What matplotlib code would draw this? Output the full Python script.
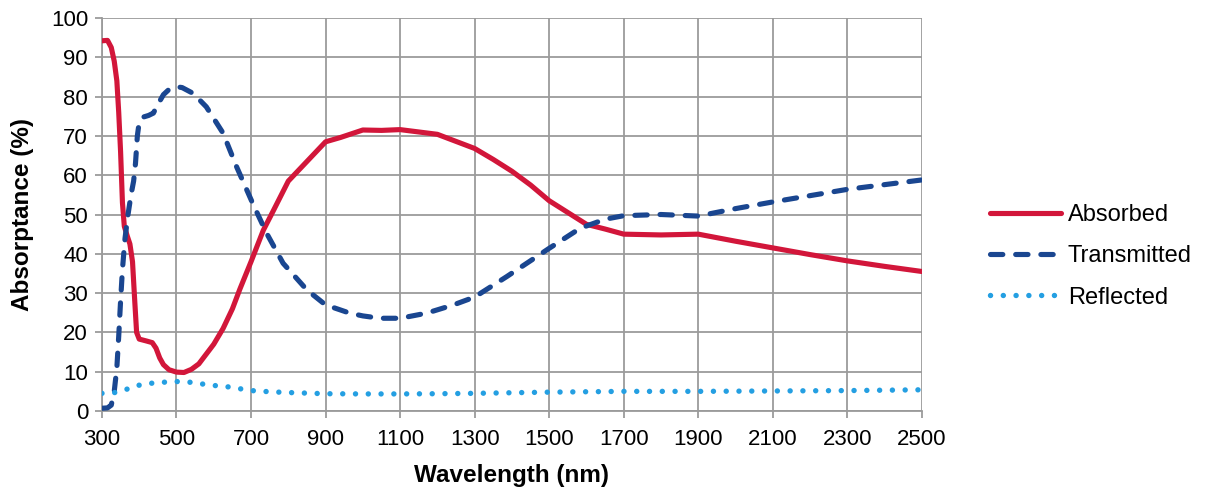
import numpy as np
import matplotlib
matplotlib.use('Agg')
import matplotlib.pyplot as plt

plt.rcParams['font.family'] = ['Liberation Sans', 'DejaVu Sans']

# Data
# -----------------------------
wl_abs = [300, 315, 325, 333, 340, 345, 350, 355, 360, 368, 375, 382, 388, 393,
          400, 420, 435, 445, 455, 465, 480, 500, 520, 540, 560, 580, 600, 625,
          650, 670, 700, 733, 760, 800, 850, 900, 940, 1000, 1050, 1100, 1150,
          1200, 1250, 1300, 1350, 1400, 1450, 1500, 1550, 1600, 1650, 1700,
          1800, 1900, 2000, 2100, 2200, 2300, 2400, 2500]
absorbed = [94.2, 94.3, 92.5, 89, 84, 76, 66, 53, 47, 44.5, 42.5, 38, 28, 20,
            18.3, 17.8, 17.4, 16, 13.5, 11.8, 10.5, 9.9, 9.8, 10.6, 12, 14.5, 17, 21,
            26, 31, 38, 46, 51, 58.5, 63.5, 68.5, 69.6, 71.5, 71.4, 71.6, 71,
            70.4, 68.6, 66.8, 64, 61, 57.5, 53.5, 50.5, 47.5, 46.3, 45,
            44.8, 45, 43.2, 41.5, 39.8, 38.2, 36.8, 35.5]

wl_tra = [300, 315, 325, 333, 340, 345, 350, 355, 362, 370, 378, 385, 390, 395,
          400, 411, 425, 438, 450, 465, 482, 500, 515, 545, 580, 625, 661, 706,
          742, 786, 850, 900, 965, 1000, 1046, 1100, 1171, 1243, 1300, 1386,
          1500, 1583, 1650, 1700, 1800, 1900, 2000, 2100, 2200, 2300, 2400, 2500]
transmitted = [0.7, 0.8, 1.5, 5, 11, 19, 28, 36, 44, 50, 55, 58.5, 63, 70,
               73.5, 74.8, 75.2, 75.8, 78, 80.5, 82, 82.5, 82.3, 80.8, 77.4, 70.7, 62.2, 52.5,
               45.2, 37.6, 30.8, 27, 24.9, 24.2, 23.6, 23.6, 24.9, 27, 29, 34.2,
               41.4, 46.5, 48.8, 49.7, 50, 49.6, 51.5, 53.2, 54.8, 56.4, 57.6, 58.8]

wl_ref = [300, 330, 360, 390, 425, 460, 500, 530, 560, 590, 643, 700, 750, 800,
          900, 1000, 1100, 1200, 1300, 1400, 1500, 1600, 1700, 1900, 2100, 2300, 2500]
reflected = [4.5, 4.6, 5.3, 6.4, 7.0, 7.3, 7.5, 7.4, 7.0, 6.6, 6.1, 5.2, 4.9, 4.7,
             4.4, 4.35, 4.35, 4.4, 4.5, 4.65, 4.8, 4.9, 5.0, 5.0, 5.1, 5.2, 5.4]

xticks = np.arange(300, 2501, 200)
yticks = np.arange(0, 101, 10)

# Figure
# ------
fig = plt.figure(figsize=(12.05, 4.93), dpi=100)
ax = fig.add_axes([0.0846, 0.1663, 0.6805, 0.7972])

gcol = '#9b9b9b'
ax.plot(wl_abs, absorbed, color='#d2163a', lw=3.7, solid_capstyle='round',
        solid_joinstyle='round', label='Absorbed', zorder=3)
ax.plot(wl_tra, transmitted, color='#1a4690', lw=3.7, dashes=(2.4, 2.5),
        dash_capstyle='round', label='Transmitted', zorder=3)
ax.plot(wl_ref, reflected, color='#249fe2', lw=3.9, dashes=(0.01, 2.35),
        dash_capstyle='round', label='Reflected', zorder=3)

ax.set_xlim(300, 2500)
ax.set_ylim(0, 100)
ax.set_xticks(xticks)
ax.set_yticks(yticks)
ax.grid(True, color=gcol, lw=1.3, zorder=0)
ax.set_axisbelow(True)
for s in ['top', 'right']:
    ax.spines[s].set_visible(False)
for s in ['left', 'bottom']:
    ax.spines[s].set_color(gcol)
    ax.spines[s].set_linewidth(1.3)
ax.tick_params(axis='both', direction='out', length=5, width=1.3, color=gcol,
               labelsize=16, pad=5)
ax.tick_params(axis='x', pad=8)

ax.set_xlabel('Wavelength (nm)', fontsize=17.5, fontweight='bold', labelpad=10)
ax.set_ylabel('Absorptance (%)', fontsize=17.5, fontweight='bold', labelpad=12)

leg = ax.legend(loc='center left', bbox_to_anchor=(1.057, 0.394), frameon=False,
                fontsize=17, handlelength=3.0, handletextpad=0.3,
                labelspacing=0.82)

fig.savefig('out.png', dpi=100)
